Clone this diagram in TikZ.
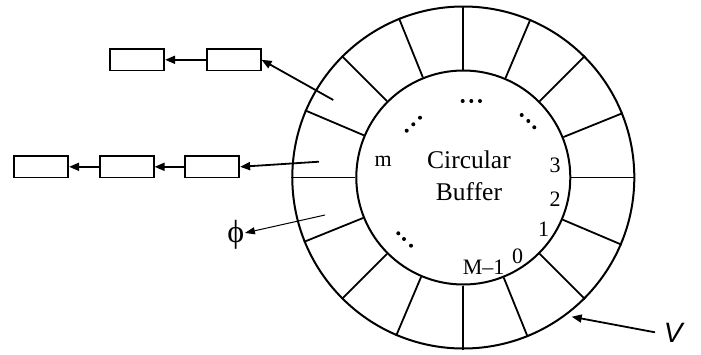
\documentclass[tikz,border=0pt]{standalone}
\usepackage{fontspec}
\setmainfont{Liberation Serif}
\newfontfamily\sansfam{Liberation Sans}
\usetikzlibrary{arrows.meta}
\tikzset{
  ring/.style={circle, draw, line width=2pt, inner sep=0pt},
  spoke/.style={line width=1.8pt},
  listbox/.style={draw, line width=1.8pt, minimum width=54pt, minimum height=21.5pt, inner sep=0pt},
  ptr/.style={line width=1.8pt, -{Triangle[length=10pt,width=8pt]}},
  thinptr/.style={line width=1pt, -{Triangle[length=10pt,width=7pt]}},
  lbl/.style={inner sep=0pt, font=\fontsize{22}{26}\selectfont},
  dotm/.style={circle, fill, inner sep=0pt, minimum size=4pt},
}
\begin{document}
\begin{tikzpicture}[x=1pt,y=-1pt]
\useasboundingbox (0,0) rectangle (701,354);
% rings
\node[ring, minimum size=342pt] (outer) at (463.3,177.5) {};
\node[ring, minimum size=214pt] (inner) at (463.3,177.5) {};
\foreach \a in {0,22.5,...,337.5}{
  \draw[spoke] (inner.\a) -- (outer.\a);
}
% centre text
\node[inner sep=0pt, align=center, font=\fontsize{25.5}{32.4}\selectfont] (title) at (469,175.5) {Circular\\Buffer};
\node[lbl] (lm) at (383.3,161.7) {m};
\node[lbl] (l3) at (555,165) {3};
\node[lbl] (l2) at (555,199) {2};
\node[lbl] (l1) at (543.7,229) {1};
\node[lbl] (l0) at (517.5,256) {0};
\node[lbl] (lM) at (483.7,267.5) {M–1};
% dots
\node[dotm] (d1) at (462.7,101) {};
\node[dotm] (d2) at (471.3,101) {};
\node[dotm] (d3) at (480,101) {};
\node[dotm] (d4) at (406.7,130.7) {};
\node[dotm] (d5) at (413.3,124.3) {};
\node[dotm] (d6) at (420,117.7) {};
\node[dotm] (d7) at (521.7,115) {};
\node[dotm] (d8) at (528.3,121) {};
\node[dotm] (d9) at (534.3,127.3) {};
\node[dotm] (d10) at (398.3,233.3) {};
\node[dotm] (d11) at (404,239) {};
\node[dotm] (d12) at (411,245.7) {};
% lists
\node[listbox] (ta) at (137.2,59.8) {};
\node[listbox] (tb) at (233.7,59.8) {};
\node[listbox] (ma) at (41.2,166.8) {};
\node[listbox] (mb) at (126.7,166.8) {};
\node[listbox] (mc) at (212.2,166.8) {};
\draw[ptr] (tb) -- (ta);
\draw[ptr] (mc) -- (mb);
\draw[ptr] (mb) -- (ma);
\coordinate (s1) at (333.3,100);
\coordinate (s2) at (319,161.7);
\coordinate (s3) at (325,215);
\draw[ptr] (s1) -- (tb.east);
\draw[ptr] (s2) -- (mc.east);
% phi
\node[inner sep=0.5pt, font=\fontsize{32}{36}\selectfont] (phi) at (235.8,235) {ϕ};
\draw[thinptr] (s3) -- (phi);
% V
\node[inner sep=1pt, font=\sansfam\itshape\fontsize{28}{32}\selectfont] (V) at (673.3,333.3) {V};
\coordinate (vt) at (571.7,316.7);
\coordinate (vs) at (655,332.3);
\draw[ptr] (vs) -- (vt);
\end{tikzpicture}
\end{document}
